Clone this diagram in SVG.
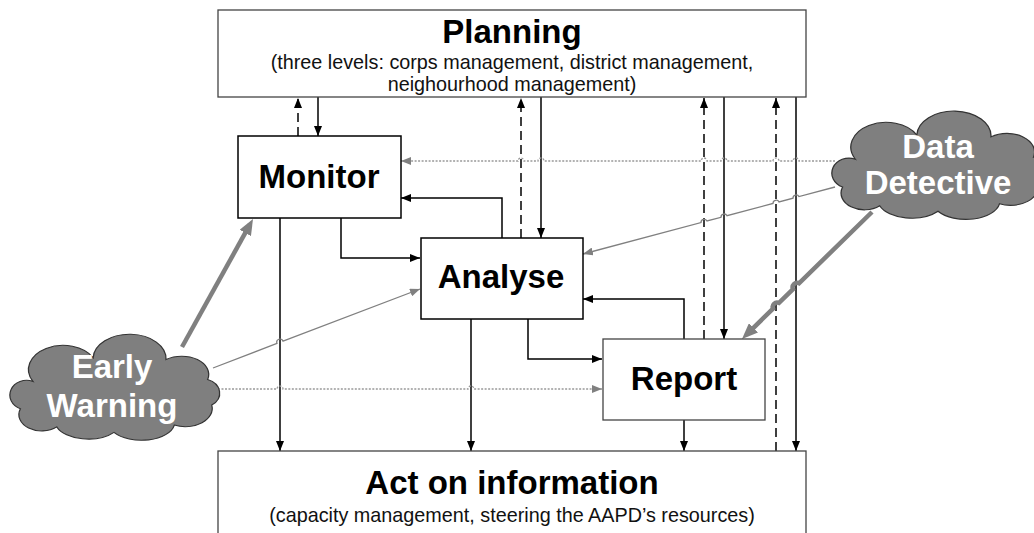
<svg xmlns="http://www.w3.org/2000/svg" width="1034" height="533" viewBox="0 0 1034 533">
<style>
.box{fill:#fff;stroke:#000;stroke-width:1.5}
.boxg{fill:#fff;stroke:#444;stroke-width:1.3}
.title{font-family:"Liberation Sans",Arial,sans-serif;font-weight:bold;font-size:33px;fill:#000;text-anchor:middle}
.sub{font-family:"Liberation Sans",Arial,sans-serif;font-size:19.8px;fill:#111;text-anchor:middle}
.cloud{fill:#7f7f7f;stroke:#333;stroke-width:1.2}
.ctext{font-family:"Liberation Sans",Arial,sans-serif;font-weight:bold;font-size:33px;fill:#fff;text-anchor:middle}
.k{fill:none;stroke:#000;stroke-width:1.5}
.kd{fill:none;stroke:#000;stroke-width:1.5;stroke-dasharray:9,5}
.g{fill:none;stroke:#808080;stroke-width:1.3}
.gd{fill:none;stroke:#999;stroke-width:1.3;stroke-dasharray:2,1.5}
.gt{fill:none;stroke:#808080;stroke-width:4.5}
</style>
<defs>
<marker id="ak" viewBox="0 0 10 8" refX="10" refY="4" markerWidth="10" markerHeight="8" markerUnits="userSpaceOnUse" orient="auto"><path d="M0,0 L10,4 L0,8 z" fill="#000"/></marker>
<marker id="ag" viewBox="0 0 10 8" refX="10" refY="4" markerWidth="10" markerHeight="8" markerUnits="userSpaceOnUse" orient="auto"><path d="M0,0 L10,4 L0,8 z" fill="#808080"/></marker>
<marker id="agt" viewBox="0 0 16 13" refX="10" refY="6.5" markerWidth="16" markerHeight="13" markerUnits="userSpaceOnUse" orient="auto"><path d="M0,0 L16,6.5 L0,13 z" fill="#808080"/></marker>
<path id="cloudshape" d="M22,40 A30,24 0 0 1 80,14 A34,26 0 0 1 150,16 A26,20 0 0 1 190,38 A18,16 0 0 1 194,66 A26,20 0 0 1 158,88 A32,20 0 0 1 100,96 A32,20 0 0 1 45,90 A22,18 0 0 1 10,70 A16,16 0 0 1 22,40 Z"/>
</defs>

<g id="connectors">
<path class="kd" d="M298,136 L298,98" marker-end="url(#ak)"/>
<path class="k" d="M318,97 L318,136" marker-end="url(#ak)"/>
<path class="kd" d="M521,238 L521,98" marker-end="url(#ak)"/>
<path class="k" d="M541,97 L541,238" marker-end="url(#ak)"/>
<path class="kd" d="M704,339 L704,98" marker-end="url(#ak)"/>
<path class="k" d="M724,97 L724,339" marker-end="url(#ak)"/>
<path class="kd" d="M776,451 L776,98" marker-end="url(#ak)"/>
<path class="k" d="M796,97 L796,451" marker-end="url(#ak)"/>
<path class="k" d="M341,218 L341,258 L420,258" marker-end="url(#ak)"/>
<path class="k" d="M502,238 L502,198 L401,198" marker-end="url(#ak)"/>
<path class="k" d="M528,319 L528,359 L602,359" marker-end="url(#ak)"/>
<path class="k" d="M684,339 L684,299 L583,299" marker-end="url(#ak)"/>
<path class="k" d="M280,218 L280,451" marker-end="url(#ak)"/>
<path class="k" d="M471,319 L471,451" marker-end="url(#ak)"/>
<path class="k" d="M684,420 L684,451" marker-end="url(#ak)"/>
<path class="gd" d="M835,161 L799,161 A3,3 0 0 0 793,161 L779,161 A3,3 0 0 0 773,161 L727,161 A3,3 0 0 0 721,161 L707,161 A3,3 0 0 0 701,161 L544,161 A3,3 0 0 0 538,161 L524,161 A3,3 0 0 0 518,161 L401,161" marker-end="url(#ag)"/>
<path class="g" d="M835,187 L799,196.6 A3.2,3.2 0 0 0 793,198.2 L779,201.9 A3.2,3.2 0 0 0 773,203.5 L727,215.7 A3.2,3.2 0 0 0 721,217.3 L707,221 A3.2,3.2 0 0 0 701,222.6 L583,254" marker-end="url(#ag)"/>
<path class="gt" d="M872,212 L799,283.3 A4.5,4.5 0 0 0 793,289.2 L779,302.9 A4.5,4.5 0 0 0 773,308.7 L746.3,334.8" marker-end="url(#agt)"/>
<path class="gt" d="M182,347 L250.1,224.2" marker-end="url(#agt)"/>
<path class="g" d="M213,368 L277,343.4 A3.2,3.2 0 0 1 283,341.1 L420,289" marker-end="url(#ag)"/>
<path class="gd" d="M218,389 L277,389 A3,3 0 0 1 283,389 L468,389 A3,3 0 0 1 474,389 L602,389" marker-end="url(#ag)"/>
</g>

<g id="planning">
<rect class="boxg" x="218" y="10" width="588" height="87"/>
<text class="title" x="512" y="43">Planning</text>
<text class="sub" x="512" y="69">(three levels: corps management, district management,</text>
<text class="sub" x="512" y="91">neighourhood management)</text>
</g>

<g id="monitor">
<rect class="box" x="238" y="136" width="163" height="82"/>
<text class="title" x="319" y="188">Monitor</text>
</g>

<g id="analyse">
<rect class="box" x="421" y="238" width="162" height="81"/>
<text class="title" x="501" y="288">Analyse</text>
</g>

<g id="report">
<rect class="boxg" x="603" y="339" width="162" height="81"/>
<text class="title" x="684" y="390">Report</text>
</g>

<g id="act">
<rect class="boxg" x="218" y="451" width="588" height="100"/>
<text class="title" x="512" y="494">Act on information</text>
<text class="sub" x="512" y="522">(capacity management, steering the AAPD’s resources)</text>
</g>

<g id="early-warning">
<use href="#cloudshape" class="cloud" transform="translate(10,345) scale(1.04,0.91)"/>
<text class="ctext" x="112" y="378">Early</text>
<text class="ctext" x="112" y="417">Warning</text>
</g>

<g id="data-detective">
<use href="#cloudshape" class="cloud" transform="translate(832,122) scale(1.06,0.93)"/>
<text class="ctext" x="938" y="158">Data</text>
<text class="ctext" x="938" y="194">Detective</text>
</g>
</svg>
